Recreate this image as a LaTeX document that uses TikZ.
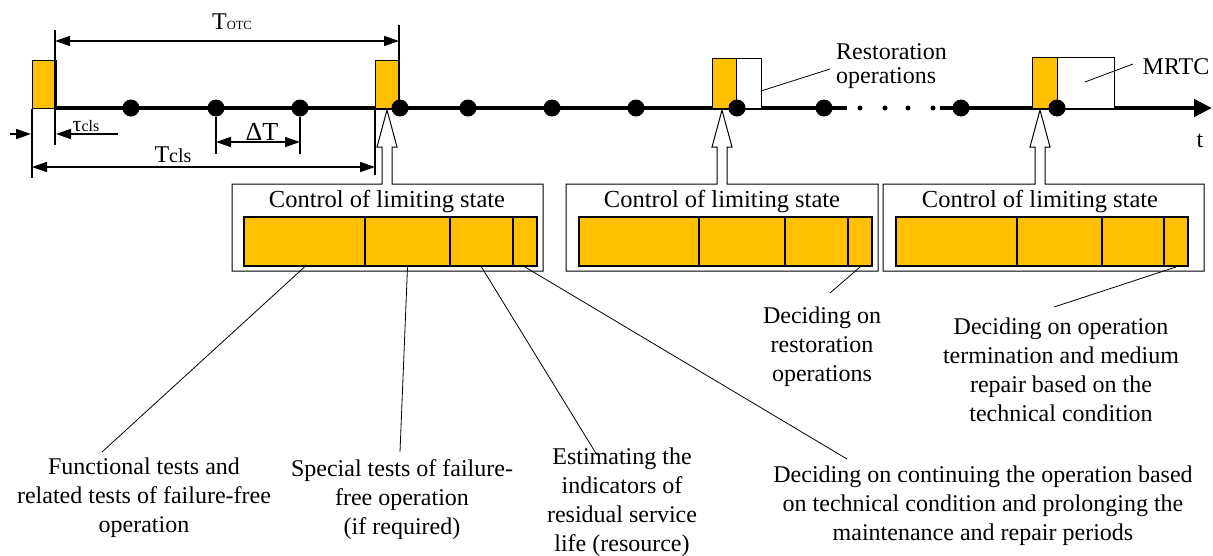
\documentclass[tikz,border=0pt]{standalone}
\usepackage{fontspec}
\setmainfont{Liberation Serif}
\usetikzlibrary{arrows.meta}
\definecolor{myorange}{HTML}{FFC000}
\tikzset{
  bar/.style={fill=myorange, draw=black, line width=1.3pt, minimum width=24, minimum height=48, anchor=south west, inner sep=0},
  wbar/.style={fill=white, draw=black, line width=1.3pt, minimum height=50, anchor=south west, inner sep=0},
  seg/.style={fill=myorange, draw=black, line width=2pt, minimum height=49, anchor=north west, inner sep=0},
  dotn/.style={circle, fill=black, minimum size=17, inner sep=0},
  sdot/.style={circle, fill=black, minimum size=5, inner sep=0},
  timeline/.style={line width=4.5pt},
  boxline/.style={line width=1pt, fill=white},
  lbl/.style={font=\fontsize{24}{29}\selectfont, align=center, inner sep=0},
  ttl/.style={font=\fontsize{24.5}{26}\selectfont, inner sep=0},
  leader/.style={line width=0.8pt},
  dim/.style={line width=1.5pt},
  dimarr/.style={line width=1.5pt, -{Triangle[length=15pt,width=10pt]}},
  dimboth/.style={line width=1.5pt, {Triangle[length=15pt,width=10pt]}-{Triangle[length=15pt,width=10pt]}},
}
% name, left, right, arrow x, inner left, d1, d2, d3, inner right
\newcommand\ctrlbox[9]{%
  \draw[boxline] ({#4-5},184) -- (#2,184) -- (#2,271) -- (#3,271) -- (#3,184)
     -- ({#4+5},184) -- ({#4+5},147) -- ({#4+10},147) -- (#4,110)
     -- ({#4-10},147) -- ({#4-5},147) -- cycle;
  \node[ttl] (#1t) at (#4,202) {Control of limiting state};
  \node[seg, minimum width={#6-#5}] (#1s1) at (#5,216) {};
  \node[seg, minimum width={#7-#6}] (#1s2) at (#6,216) {};
  \node[seg, minimum width={#8-#7}] (#1s3) at (#7,216) {};
  \node[seg, minimum width={#9-#8}] (#1s4) at (#8,216) {};
}
\begin{document}
\begin{tikzpicture}[x=1pt,y=-1pt]
\useasboundingbox (0,0) rectangle (1213,555);

% timeline
\coordinate (tstart) at (55,108);
\coordinate (gapL) at (847,108);
\coordinate (gapR) at (940,108);
\coordinate (tend) at (1212,108);
\draw[timeline] (tstart) -- (gapL);
\draw[timeline, -{Triangle[length=18pt,width=17pt]}] (gapR) -- (tend);

% bars
\node[bar] (b1) at (32,109) {};
\node[bar] (b2) at (375,109) {};
\node[bar, minimum height=50] (b3) at (712,109) {};
\node[wbar, minimum width=25] (w3) at (736,109) {};
\node[bar, minimum height=51, minimum width=25] (b4) at (1032,109) {};
\node[wbar, minimum width=57, minimum height=51] (w4) at (1057,109) {};

% dots
\foreach \x/\n in {131/1,216/2,300/3,400/4,468/5,552/6,636/7,737/8,824/9,961/10,1057/11}
  \node[dotn] (d\n) at (\x,108) {};
\foreach \x/\n in {860/1,885/2,908/3,933/4}
  \node[sdot] (s\n) at (\x,108) {};

% time label and callouts
\node[font=\fontsize{24}{24}\selectfont, inner sep=0] (tlab) at (1200,141) {t};
\node[font=\fontsize{24}{24}\selectfont, align=left, inner sep=0, anchor=north west] (resto) at (836,43) {Restoration\\operations};
\node[font=\fontsize{24}{24}\selectfont, inner sep=0] (mrtc) at (1176,67) {MRTC};
\coordinate (rs) at (761,91);
\coordinate (re) at (830,69);
\draw[leader] (rs) -- (re);
\coordinate (ms) at (1085,82);
\coordinate (me) at (1133,64);
\draw[leader] (ms) -- (me);

% dimensions
\coordinate (a1) at (55,30); \coordinate (a2) at (55,145);
\draw[dim] (a1) -- (a2);
\coordinate (a3) at (399,25); \coordinate (a4) at (399,108);
\draw[dim] (a3) -- (a4);
\coordinate (o1) at (55,41); \coordinate (o2) at (399,41);
\draw[dimboth] (o1) -- (o2);
\node[inner sep=0] (totc) at (232,22) {\fontsize{24}{24}\selectfont T\fontsize{12.5}{12.5}\selectfont OTC};

\coordinate (c1) at (32,109); \coordinate (c2) at (32,178);
\draw[dim] (c1) -- (c2);
\coordinate (c3) at (375,109); \coordinate (c4) at (375,175);
\draw[dim] (c3) -- (c4);
\coordinate (k1) at (32,167); \coordinate (k2) at (375,167);
\draw[dimboth] (k1) -- (k2);
\node[inner sep=0] (tcls) at (173,155) {\fontsize{24}{24}\selectfont T\fontsize{20}{20}\selectfont cls};

\coordinate (u1) at (118,134); \coordinate (u2) at (56,134);
\draw[dimarr] (u1) -- (u2);
\coordinate (u3) at (10,134); \coordinate (u4) at (31,134);
\draw[dimarr] (u3) -- (u4);
\node[inner sep=0] (tau) at (86,126) {\fontsize{22}{22}\selectfont τ\fontsize{16}{16}\selectfont cls};

\coordinate (v1) at (216,154); \coordinate (v2) at (300,154);
\draw[dim] (d2) -- (v1);
\draw[dim] (d3) -- (v2);
\coordinate (h1) at (216,142); \coordinate (h2) at (300,142);
\draw[dimboth] (h1) -- (h2);
\node[inner sep=0] (dT) at (262,132) {\fontsize{26}{26}\selectfont ΔT};

% control boxes
\ctrlbox{A}{232}{543}{387}{243}{364}{449}{512}{536}
\ctrlbox{B}{566}{878}{722}{578}{698}{784}{847}{871}
\ctrlbox{C}{883}{1204}{1040}{895}{1016}{1101}{1163}{1187}

% labels
\node[lbl] (L1) at (144,498) {Functional tests and\\related tests of failure-free\\operation};
\node[lbl] (L2) at (402,500) {Special tests of failure-\\free operation\\(if required)};
\node[lbl] (L3) at (622,502) {Estimating the\\indicators of\\residual service\\life (resource)};
\node[lbl] (L4) at (983,506) {Deciding on continuing the operation based\\on technical condition and prolonging the\\maintenance and repair periods};
\node[lbl] (L5) at (822,347) {Deciding on\\restoration\\operations};
\node[lbl] (L6) at (1061,370) {Deciding on operation\\termination and medium\\repair based on the\\technical condition};

\coordinate (e1) at (102,452);
\coordinate (e2) at (400,452);
\coordinate (e3) at (597,455);
\coordinate (e4) at (847,459);
\coordinate (e5) at (830,293);
\coordinate (e6) at (1054,307);
\draw[leader] (As1.south) -- (e1);
\draw[leader] (As2.south) -- (e2);
\draw[leader] (As3.south) -- (e3);
\draw[leader] (As4.south) -- (e4);
\draw[leader] (Bs4.south) -- (e5);
\draw[leader] (Cs4.south) -- (e6);
\end{tikzpicture}
\end{document}
